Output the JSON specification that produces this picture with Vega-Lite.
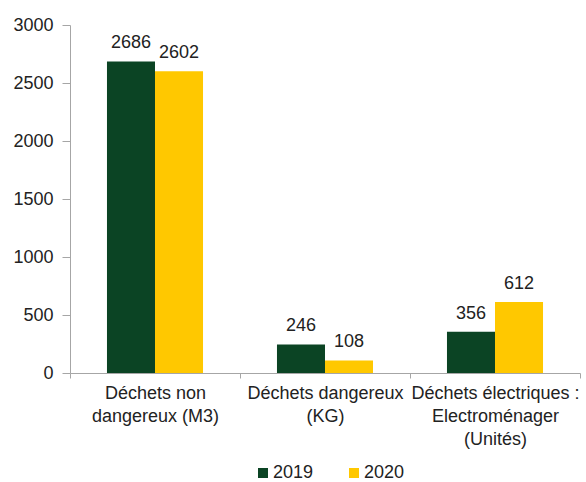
{
  "$schema": "https://vega.github.io/schema/vega-lite/v6.json",
  "width": 510,
  "height": 348,
  "autosize": {"type": "none"},
  "padding": {"left": 70, "top": 25, "right": 6, "bottom": 109},
  "config": {
    "font": "Liberation Sans",
    "view": {"stroke": null},
    "axis": {"grid": false}
  },
  "data": {
    "values": [
      {"categorie": "Déchets non|dangereux (M3)", "annee": "2019", "valeur": 2686},
      {"categorie": "Déchets non|dangereux (M3)", "annee": "2020", "valeur": 2602},
      {"categorie": "Déchets dangereux|(KG)", "annee": "2019", "valeur": 246},
      {"categorie": "Déchets dangereux|(KG)", "annee": "2020", "valeur": 108},
      {"categorie": "Déchets électriques :|Electroménager|(Unités)", "annee": "2019", "valeur": 356},
      {"categorie": "Déchets électriques :|Electroménager|(Unités)", "annee": "2020", "valeur": 612}
    ]
  },
  "encoding": {
    "x": {
      "field": "categorie",
      "type": "nominal",
      "sort": null,
      "scale": {"paddingInner": 0, "paddingOuter": 0},
      "axis": {
        "title": null,
        "labelAngle": 0,
        "labelExpr": "split(datum.label, '|')",
        "tickBand": "extent",
        "tickSize": 5,
        "labelPadding": 6,
        "labelFontSize": 18,
        "labelLineHeight": 23,
        "labelColor": "#222222",
        "labelLimit": 300,
        "domainColor": "#a6a6a6",
        "tickColor": "#a6a6a6"
      }
    },
    "xOffset": {
      "field": "annee",
      "type": "nominal",
      "scale": {"paddingInner": 0, "paddingOuter": 0.77}
    },
    "y": {
      "field": "valeur",
      "type": "quantitative",
      "scale": {"domain": [0, 3000]},
      "axis": {
        "title": null,
        "values": [0, 500, 1000, 1500, 2000, 2500, 3000],
        "format": "d",
        "tickSize": 8,
        "labelPadding": 9,
        "labelFontSize": 18,
        "labelColor": "#222222",
        "domainColor": "#a6a6a6",
        "tickColor": "#a6a6a6"
      }
    }
  },
  "layer": [
    {
      "mark": {"type": "bar"},
      "encoding": {
        "color": {
          "field": "annee",
          "type": "nominal",
          "scale": {"range": ["#0b4424", "#ffc800"]},
          "legend": {
            "orient": "none",
            "direction": "horizontal",
            "legendX": 184,
            "legendY": 439,
            "title": null,
            "symbolType": "square",
            "symbolSize": 100,
            "symbolStrokeWidth": 0,
            "symbolOpacity": 1,
            "labelFontSize": 18,
            "labelColor": "#222222",
            "labelOffset": 1,
            "columnPadding": 31
          }
        }
      }
    },
    {
      "mark": {"type": "text", "dy": -13, "baseline": "alphabetic", "fontSize": 18, "color": "#222222"},
      "encoding": {"text": {"field": "valeur", "type": "quantitative"}}
    }
  ]
}
